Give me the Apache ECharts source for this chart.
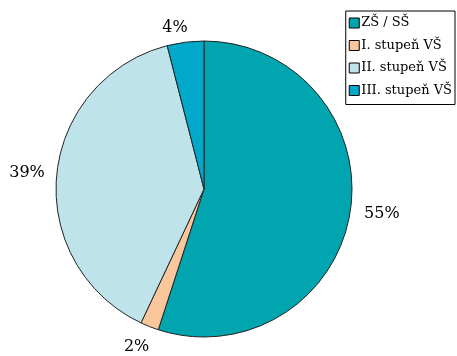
<!DOCTYPE html>
<html><head><meta charset="utf-8">
<script src="https://cdn.jsdelivr.net/npm/echarts@6/dist/echarts.min.js"></script>
<style>html,body{margin:0;padding:0;background:#fff}#c{width:457px;height:356px}</style>
</head><body><div id="c"></div>
<script>
const categories = ['ZŠ / SŠ', 'I. stupeň VŠ', 'II. stupeň VŠ', 'III. stupeň VŠ'];
const values = [55, 2, 39, 4];
const colors = ['#00A5AF', '#FAC79C', '#BEE3EB', '#00A9C9'];
// label offsets (styling only)
const lineLen = [9, 25, 12, 14];
const labelGap = [5, -9, 5, -4];
const chart = echarts.init(document.getElementById('c'));
chart.setOption({
  animation: false,
  legend: {
    orient: 'vertical', right: 2, top: 11,
    data: categories,
    itemWidth: 10, itemHeight: 10, itemGap: 8.5,
    borderColor: '#000', borderWidth: 1, padding: [5, 3, 7, 3],
    textStyle: { fontFamily: 'DejaVu Serif', fontSize: 13, color: '#000', lineHeight: 14, padding: [0, 0, 0, -3] },
    itemStyle: { borderColor: '#000', borderWidth: 1 },
    icon: 'rect'
  },
  series: [{
    type: 'pie',
    center: [204, 189], radius: [0, 148],
    startAngle: 90, clockwise: true,
    data: categories.map((n, i) => ({
      name: n, value: values[i],
      itemStyle: { color: colors[i] },
      labelLine: { show: false, length: lineLen[i], length2: 0 },
      label: { distanceToLabelLine: labelGap[i] }
    })),
    itemStyle: { borderColor: '#222', borderWidth: 1 },
    label: {
      show: true, position: 'outside', overflow: 'none',
      formatter: p => p.value + '%',
      fontFamily: 'DejaVu Serif', fontSize: 16, color: '#000'
    },
    labelLine: { show: false, length: 9, length2: 0 },
    emphasis: { disabled: true }
  }]
});
</script></body></html>
